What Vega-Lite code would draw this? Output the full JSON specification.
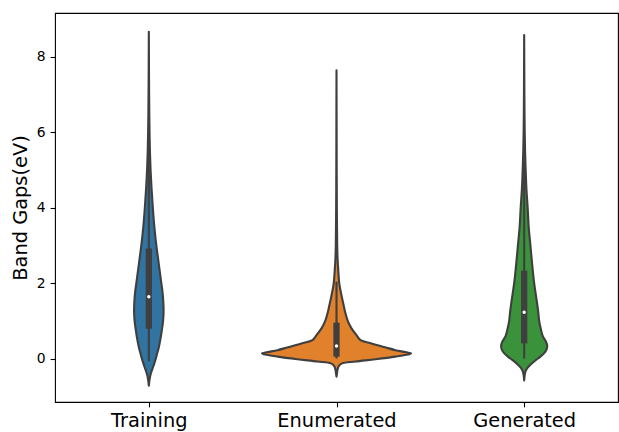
{
  "$schema": "https://vega.github.io/schema/vega-lite/v6.json",
  "width": 563,
  "height": 389,
  "autosize": {"type": "none"},
  "padding": {"left": 55, "top": 13, "right": 1, "bottom": 30},
  "config": {
    "font": "DejaVu Sans",
    "view": {"stroke": "#000000", "strokeWidth": 1.1},
    "axis": {"grid": false, "domain": false, "tickColor": "#000000", "tickWidth": 1.1, "tickSize": 4.9, "labelColor": "#000000", "labelFont": "DejaVu Sans", "titleFont": "DejaVu Sans", "titleFontWeight": "normal", "titleColor": "#000000"},
    "axisY": {"labelFontSize": 13.9, "labelPadding": 4.9, "titleFontSize": 19.4, "titlePadding": 6},
    "axisX": {"labelFontSize": 19.4, "labelPadding": 4.9, "labelAngle": 0}
  },
  "datasets": {
    "violin": [
      {"cat": "Training", "v": -0.72, "w": 0},
      {"cat": "Training", "v": -0.6, "w": 1},
      {"cat": "Training", "v": -0.45, "w": 3},
      {"cat": "Training", "v": -0.3, "w": 6.5},
      {"cat": "Training", "v": -0.15, "w": 10.5},
      {"cat": "Training", "v": 0, "w": 14},
      {"cat": "Training", "v": 0.15, "w": 17},
      {"cat": "Training", "v": 0.3, "w": 20},
      {"cat": "Training", "v": 0.5, "w": 23},
      {"cat": "Training", "v": 0.75, "w": 26},
      {"cat": "Training", "v": 1.0, "w": 28.5},
      {"cat": "Training", "v": 1.25, "w": 29.5},
      {"cat": "Training", "v": 1.5, "w": 29},
      {"cat": "Training", "v": 1.75, "w": 27.5},
      {"cat": "Training", "v": 2.0, "w": 25},
      {"cat": "Training", "v": 2.5, "w": 20},
      {"cat": "Training", "v": 3.0, "w": 15},
      {"cat": "Training", "v": 3.5, "w": 11},
      {"cat": "Training", "v": 4.0, "w": 8},
      {"cat": "Training", "v": 4.5, "w": 5.5},
      {"cat": "Training", "v": 5.0, "w": 3.5},
      {"cat": "Training", "v": 5.5, "w": 2.2},
      {"cat": "Training", "v": 6.0, "w": 1.4},
      {"cat": "Training", "v": 6.5, "w": 0.9},
      {"cat": "Training", "v": 7.0, "w": 0.6},
      {"cat": "Training", "v": 7.5, "w": 0.35},
      {"cat": "Training", "v": 8.0, "w": 0.2},
      {"cat": "Training", "v": 8.67, "w": 0},
      {"cat": "Enumerated", "v": -0.48, "w": 0},
      {"cat": "Enumerated", "v": -0.4, "w": 1},
      {"cat": "Enumerated", "v": -0.3, "w": 2},
      {"cat": "Enumerated", "v": -0.2, "w": 4.5},
      {"cat": "Enumerated", "v": -0.13, "w": 11},
      {"cat": "Enumerated", "v": -0.08, "w": 38},
      {"cat": "Enumerated", "v": -0.02, "w": 78},
      {"cat": "Enumerated", "v": 0.05, "w": 118},
      {"cat": "Enumerated", "v": 0.1, "w": 140},
      {"cat": "Enumerated", "v": 0.135, "w": 149},
      {"cat": "Enumerated", "v": 0.17, "w": 138},
      {"cat": "Enumerated", "v": 0.22, "w": 118},
      {"cat": "Enumerated", "v": 0.3, "w": 97},
      {"cat": "Enumerated", "v": 0.4, "w": 70},
      {"cat": "Enumerated", "v": 0.49, "w": 48},
      {"cat": "Enumerated", "v": 0.62, "w": 40},
      {"cat": "Enumerated", "v": 0.8, "w": 30},
      {"cat": "Enumerated", "v": 1.0, "w": 22.5},
      {"cat": "Enumerated", "v": 1.25, "w": 17},
      {"cat": "Enumerated", "v": 1.46, "w": 13.5},
      {"cat": "Enumerated", "v": 1.64, "w": 10.5},
      {"cat": "Enumerated", "v": 2.0, "w": 5.5},
      {"cat": "Enumerated", "v": 2.35, "w": 3.5},
      {"cat": "Enumerated", "v": 2.7, "w": 2},
      {"cat": "Enumerated", "v": 3.0, "w": 1.4},
      {"cat": "Enumerated", "v": 4.0, "w": 0.7},
      {"cat": "Enumerated", "v": 5.0, "w": 0.4},
      {"cat": "Enumerated", "v": 6.0, "w": 0.25},
      {"cat": "Enumerated", "v": 7.0, "w": 0.1},
      {"cat": "Enumerated", "v": 7.65, "w": 0},
      {"cat": "Generated", "v": -0.58, "w": 0},
      {"cat": "Generated", "v": -0.45, "w": 1},
      {"cat": "Generated", "v": -0.35, "w": 2.5},
      {"cat": "Generated", "v": -0.25, "w": 6.5},
      {"cat": "Generated", "v": -0.15, "w": 13.5},
      {"cat": "Generated", "v": -0.05, "w": 22.5},
      {"cat": "Generated", "v": 0.05, "w": 32.5},
      {"cat": "Generated", "v": 0.15, "w": 40.5},
      {"cat": "Generated", "v": 0.25, "w": 45},
      {"cat": "Generated", "v": 0.35, "w": 46},
      {"cat": "Generated", "v": 0.45, "w": 43.5},
      {"cat": "Generated", "v": 0.6, "w": 37},
      {"cat": "Generated", "v": 0.8, "w": 33},
      {"cat": "Generated", "v": 1.0, "w": 30},
      {"cat": "Generated", "v": 1.25, "w": 28},
      {"cat": "Generated", "v": 1.5, "w": 25.5},
      {"cat": "Generated", "v": 2.0, "w": 20},
      {"cat": "Generated", "v": 2.5, "w": 16},
      {"cat": "Generated", "v": 3.0, "w": 12.5},
      {"cat": "Generated", "v": 3.5, "w": 9},
      {"cat": "Generated", "v": 4.0, "w": 7},
      {"cat": "Generated", "v": 4.5, "w": 4.5},
      {"cat": "Generated", "v": 5.0, "w": 3},
      {"cat": "Generated", "v": 5.5, "w": 1.8},
      {"cat": "Generated", "v": 6.0, "w": 1.1},
      {"cat": "Generated", "v": 6.5, "w": 0.7},
      {"cat": "Generated", "v": 7.0, "w": 0.45},
      {"cat": "Generated", "v": 7.5, "w": 0.3},
      {"cat": "Generated", "v": 8.0, "w": 0.15},
      {"cat": "Generated", "v": 8.58, "w": 0}
    ],
    "box": [
      {"cat": "Training", "q1": 0.79, "q3": 2.92, "med": 1.64, "lo": -0.07, "hi": 6.13},
      {"cat": "Enumerated", "q1": 0.05, "q3": 0.95, "med": 0.33, "lo": 0, "hi": 2.04},
      {"cat": "Generated", "q1": 0.40, "q3": 2.33, "med": 1.23, "lo": 0, "hi": 5.23}
    ]
  },
  "layer": [
    {
      "data": {"name": "violin"},
      "transform": [{"filter": "datum.cat === 'Training'"}],
      "mark": {"type": "area", "orient": "horizontal", "interpolate": "catmull-rom", "fill": "#3274A1", "stroke": "#3f3f3f", "strokeWidth": 2.1, "strokeJoin": "round"},
      "encoding": {
        "y": {"field": "v", "type": "quantitative", "title": "Band Gaps(eV)", "scale": {"domain": [-1.154, 9.167], "nice": false, "zero": false}, "axis": {"values": [0, 2, 4, 6, 8]}},
        "x": {"field": "w", "type": "quantitative", "stack": "center", "impute": null, "scale": {"domain": [-79.08, 483.92], "nice": false, "zero": false}, "axis": null}
      }
    },
    {
      "data": {"name": "violin"},
      "transform": [{"filter": "datum.cat === 'Enumerated'"}],
      "mark": {"type": "area", "orient": "horizontal", "interpolate": "catmull-rom", "fill": "#E1812C", "stroke": "#3f3f3f", "strokeWidth": 2.1, "strokeJoin": "round"},
      "encoding": {
        "y": {"field": "v", "type": "quantitative", "title": "Band Gaps(eV)", "scale": {"domain": [-1.154, 9.167], "nice": false, "zero": false}, "axis": {"values": [0, 2, 4, 6, 8]}},
        "x": {"field": "w", "type": "quantitative", "stack": "center", "impute": null, "scale": {"domain": [-207, 356], "nice": false, "zero": false}, "axis": null}
      }
    },
    {
      "data": {"name": "violin"},
      "transform": [{"filter": "datum.cat === 'Generated'"}],
      "mark": {"type": "area", "orient": "horizontal", "interpolate": "catmull-rom", "fill": "#3A923A", "stroke": "#3f3f3f", "strokeWidth": 2.1, "strokeJoin": "round"},
      "encoding": {
        "y": {"field": "v", "type": "quantitative", "title": "Band Gaps(eV)", "scale": {"domain": [-1.154, 9.167], "nice": false, "zero": false}, "axis": {"values": [0, 2, 4, 6, 8]}},
        "x": {"field": "w", "type": "quantitative", "stack": "center", "impute": null, "scale": {"domain": [-446.17, 116.83], "nice": false, "zero": false}, "axis": null}
      }
    },
    {
      "data": {"name": "box"},
      "encoding": {
        "x": {"field": "cat", "type": "nominal", "sort": ["Training", "Enumerated", "Generated"], "scale": {"type": "point", "padding": 0.5}, "title": null}
      },
      "layer": [
        {
          "mark": {"type": "rule", "color": "#3f3f3f", "strokeWidth": 2.1},
          "encoding": {
            "y": {"field": "lo", "type": "quantitative", "title": "Band Gaps(eV)", "scale": {"domain": [-1.154, 9.167], "nice": false, "zero": false}, "axis": {"values": [0, 2, 4, 6, 8]}},
            "y2": {"field": "hi"}
          }
        },
        {
          "mark": {"type": "rule", "color": "#3f3f3f", "strokeWidth": 6.25},
          "encoding": {
            "y": {"field": "q1", "type": "quantitative", "title": "Band Gaps(eV)", "scale": {"domain": [-1.154, 9.167], "nice": false, "zero": false}, "axis": {"values": [0, 2, 4, 6, 8]}},
            "y2": {"field": "q3"}
          }
        },
        {
          "mark": {"type": "point", "filled": true, "color": "#ffffff", "size": 12, "opacity": 1},
          "encoding": {
            "y": {"field": "med", "type": "quantitative", "title": "Band Gaps(eV)", "scale": {"domain": [-1.154, 9.167], "nice": false, "zero": false}, "axis": {"values": [0, 2, 4, 6, 8]}}
          }
        }
      ]
    }
  ],
  "resolve": {"scale": {"x": "independent"}, "axis": {"x": "independent"}}
}
